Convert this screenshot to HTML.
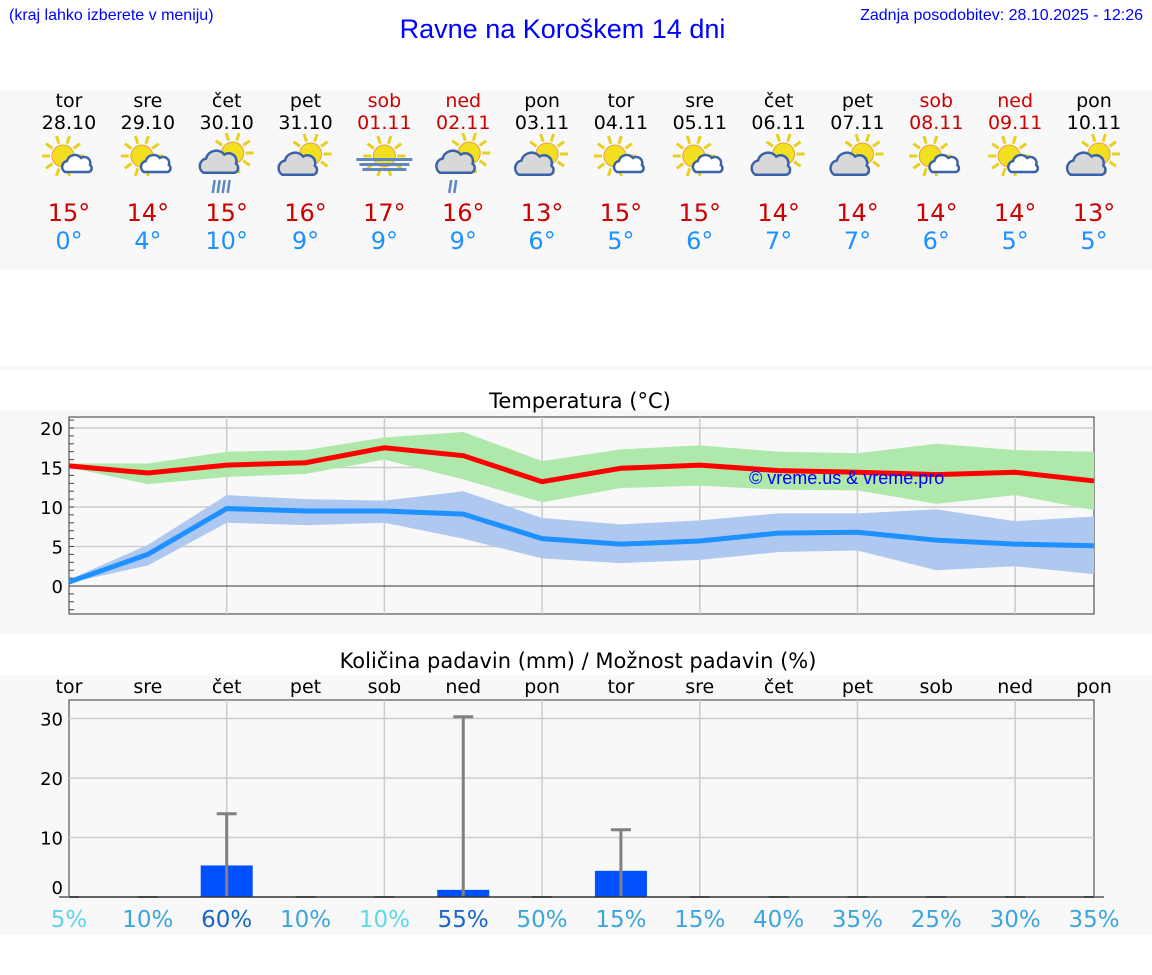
<!DOCTYPE html>
<html><head><meta charset="utf-8"><style>
body{margin:0;width:1152px;height:975px;background:#fff;font-family:"DejaVu Sans","Liberation Sans",sans-serif;position:relative;overflow:hidden}
.a{position:absolute}
</style></head><body>
<div class="a" style="left:9px;top:7px;font:16px 'Liberation Sans',sans-serif;color:#0000ff">(kraj lahko izberete v meniju)</div>
<div class="a" style="left:0;width:1125px;text-align:center;top:14px;font:27px 'Liberation Sans',sans-serif;color:#0000ff">Ravne na Koroškem 14 dni</div>
<div class="a" style="right:9px;top:7px;font:16px 'Liberation Sans',sans-serif;color:#0000ff">Zadnja posodobitev: 28.10.2025 - 12:26</div>
<div class="a" style="left:0;top:90px;width:1152px;height:180px;background:#f8f8f8"></div>
<div class="a" style="left:0;top:365px;width:1152px;height:5px;background:#f8f8f8"></div>
<div class="a" style="left:0;top:410px;width:1152px;height:225px;background:#f8f8f8"></div>
<div class="a" style="left:0;top:675px;width:1152px;height:260px;background:#f8f8f8"></div>
<svg class="a" style="left:0;top:0" width="1152" height="975" id="s"></svg>
<script>
const days=["tor","sre","čet","pet","sob","ned","pon","tor","sre","čet","pet","sob","ned","pon"];
const dates=["28.10","29.10","30.10","31.10","01.11","02.11","03.11","04.11","05.11","06.11","07.11","08.11","09.11","10.11"];
const weekend=[0,0,0,0,1,1,0,0,0,0,0,1,1,0];
const icons=["sc","sc","rain","pc","fog","shower","pc","sc","sc","pc","pc","sc","sc","pc"];
const maxT=[15,14,15,16,17,16,13,15,15,14,14,14,14,13];
const minT=[0,4,10,9,9,9,6,5,6,7,7,6,5,5];
const maxLine=[15.2,14.3,15.3,15.6,17.5,16.5,13.2,14.9,15.3,14.6,14.4,14.1,14.4,13.3];
const maxHi=[15.5,15.5,17,17.2,18.8,19.5,15.8,17.3,17.8,17,16.8,18,17.2,17];
const maxLo=[15,12.9,13.8,14.2,16,13.5,10.6,12.4,12.7,12.2,12.1,10.4,11.5,9.6];
const minLine=[0.5,4,9.8,9.5,9.5,9.1,6,5.3,5.7,6.7,6.8,5.8,5.3,5.1];
const minHi=[0.8,5.2,11.5,11,10.8,12,8.6,7.8,8.3,9.2,9.2,9.7,8.2,8.8];
const minLo=[0.4,2.6,8,7.7,8,6,3.5,2.9,3.3,4.3,4.5,2,2.5,1.5];
const tempTicks=[0,5,10,15,20];
const precip=[0,0,5.3,0,0,1.2,0,4.4,0,0,0,0,0,0];
const precipMax=[0,0,14,0,0,30.3,0,11.3,0,0,0,0,0,0];
const precipTicks=[0,10,20,30];
const prob=[5,10,60,10,10,55,50,15,15,40,35,25,30,35];
const probCol=["#5dd5e6","#3da5dd","#1a66c0","#3da5dd","#60d8e8","#1a66c0","#3da5dd","#3da5dd","#3da5dd","#3da5dd","#3da5dd","#3da5dd","#3da5dd","#3da5dd"];
const s=document.getElementById('s');
const NS="http://www.w3.org/2000/svg";
function el(t,a,p){const e=document.createElementNS(NS,t);for(const k in a)e.setAttribute(k,a[k]);(p||s).appendChild(e);return e;}
function tx(x,y,str,sz,col,anc,name){const e=el('text',{x:x,y:y,'font-size':sz,fill:col,'text-anchor':anc||'middle','font-family':'DejaVu Sans, sans-serif'});e.textContent=str;

return e;}
const X=i=>69+i*(1094-69)/13;
function sun(g,cx,cy,r){for(let k=0;k<10;k++){const a=k*Math.PI/5;el('line',{x1:cx+Math.cos(a)*(r+2),y1:cy+Math.sin(a)*(r+2),x2:cx+Math.cos(a)*(r+10),y2:cy+Math.sin(a)*(r+10),stroke:'#e8d020','stroke-width':3},g);}el('circle',{cx:cx,cy:cy,r:r,fill:'#f2e020',stroke:'#e8a040','stroke-width':1},g);}
function cloud(g,cx,cy,sc,fill){el('path',{d:`M${cx-14*sc} ${cy+6*sc} a${6*sc} ${6*sc} 0 0 1 ${2*sc} ${-11*sc} a${8*sc} ${8*sc} 0 0 1 ${14*sc} ${-3*sc} a${6*sc} ${6*sc} 0 0 1 ${9*sc} ${7*sc} a${4*sc} ${4*sc} 0 0 1 ${-1*sc} ${7*sc} z`,fill:fill,stroke:'#3a62a8','stroke-width':2.5},g);}
days.forEach((d,i)=>{const x=X(i);const c=weekend[i]?'#cc0000':'#000';
tx(x,107,d,19,c,'middle','day-name');tx(x,129,dates[i],19,c,'middle','day-date');
const g=el('g',{});


const t=icons[i];
if(t=='sc'){sun(g,x-6,156,11);cloud(g,x+10,166,1,'#fff');}
else if(t=='pc'){sun(g,x+5,154,11);cloud(g,x-5,167,1.3,'#d8d8d8');}
else if(t=='rain'||t=='shower'){sun(g,x+6,153,11);cloud(g,x-5,165,1.3,'#d8d8d8');const n=t=='rain'?4:2;for(let k=0;k<n;k++)el('line',{x1:x-12+k*5,y1:180,x2:x-14+k*5,y2:193,stroke:'#6088c0','stroke-width':2.5},g);}
else{sun(g,x,156,11);for(let k=0;k<3;k++)el('rect',{x:x-28+k*3,y:158+k*5,width:56-k*6,height:3,fill:'#6088c0'},g);}
tx(x,221,maxT[i]+'°',24,'#cc0000','middle','max-temp');tx(x,249,minT[i]+'°',24,'#1e90ff','middle','min-temp');});
const YT=v=>586-v*7.9;
tx(580,408,'Temperatura (°C)',21,'#000','middle','temp-chart-title');
el('rect',{x:69,y:417,width:1025,height:197,fill:'#f8f8f8',stroke:'#333'});
tempTicks.forEach(v=>{if(v)el('line',{x1:69,x2:1094,y1:YT(v),y2:YT(v),stroke:'#ccc','stroke-width':1.5});tx(63,YT(v)+7,v,18,'#000','end','y-tick-label');});
for(let v=-3;v<=21;v++)el('line',{x1:69,x2:74,y1:YT(v),y2:YT(v),stroke:'#444','stroke-width':1});
for(let i=2;i<13;i+=2)el('line',{x1:X(i),x2:X(i),y1:417,y2:614,stroke:'#ccc','stroke-width':1.5});
el('line',{x1:69,x2:1094,y1:YT(0),y2:YT(0),stroke:'#333','stroke-width':1});
function band(hi,lo,col,name){const p=hi.map((v,i)=>X(i)+','+YT(v)).concat(lo.map((v,i)=>X(i)+','+YT(v)).reverse());const e=el('polygon',{points:p.join(' '),fill:col});

}
function line(v,col,name){const e=el('polyline',{points:v.map((y,i)=>X(i)+','+YT(y)).join(' '),fill:'none',stroke:col,'stroke-width':5});

}
band(maxHi,maxLo,'#aee8aa','max-temp-range');band(minHi,minLo,'#aec8f0','min-temp-range');
line(maxLine,'#ff0000','max-temp-line');line(minLine,'#1e90ff','min-temp-line');
const cp=tx(749,484,'© vreme.us & vreme.pro',18,'#0000ff','start','copyright');cp.setAttribute('font-family','Liberation Sans, sans-serif');
const YP=v=>897-v*5.95;
tx(578,668,'Količina padavin (mm) / Možnost padavin (%)',21,'#000','middle','precip-chart-title');
days.forEach((d,i)=>tx(X(i),693,d,19,'#000','middle','precip-day-label'));
el('rect',{x:69,y:700,width:1025,height:197,fill:'#f8f8f8',stroke:'#333'});
precipTicks.forEach(v=>{if(v)el('line',{x1:69,x2:1094,y1:YP(v),y2:YP(v),stroke:'#ccc','stroke-width':1.5});tx(63,YP(v)+(v?7:-3),v,18,'#000','end','y-tick-label');});
for(let i=2;i<13;i+=2)el('line',{x1:X(i),x2:X(i),y1:700,y2:897,stroke:'#ccc','stroke-width':1.5});
precip.forEach((v,i)=>{const x=X(i);if(v>0){const b=el('rect',{x:x-26,y:YP(v),width:52,height:897-YP(v),fill:'#0050ff'});

}
const m=precipMax[i];if(m>0){el('line',{x1:x,x2:x,y1:YP(m),y2:897,stroke:'#808080','stroke-width':3});el('line',{x1:x-10,x2:x+10,y1:YP(m),y2:YP(m),stroke:'#808080','stroke-width':3});}
else el('line',{x1:x-10,x2:x+10,y1:897,y2:897,stroke:'#808080','stroke-width':2});
tx(x,927,prob[i]+'%',23,probCol[i],'middle','precip-probability');});
el('line',{x1:69,x2:1094,y1:897,y2:897,stroke:'#333','stroke-width':1.5});
</script>
</body></html>
